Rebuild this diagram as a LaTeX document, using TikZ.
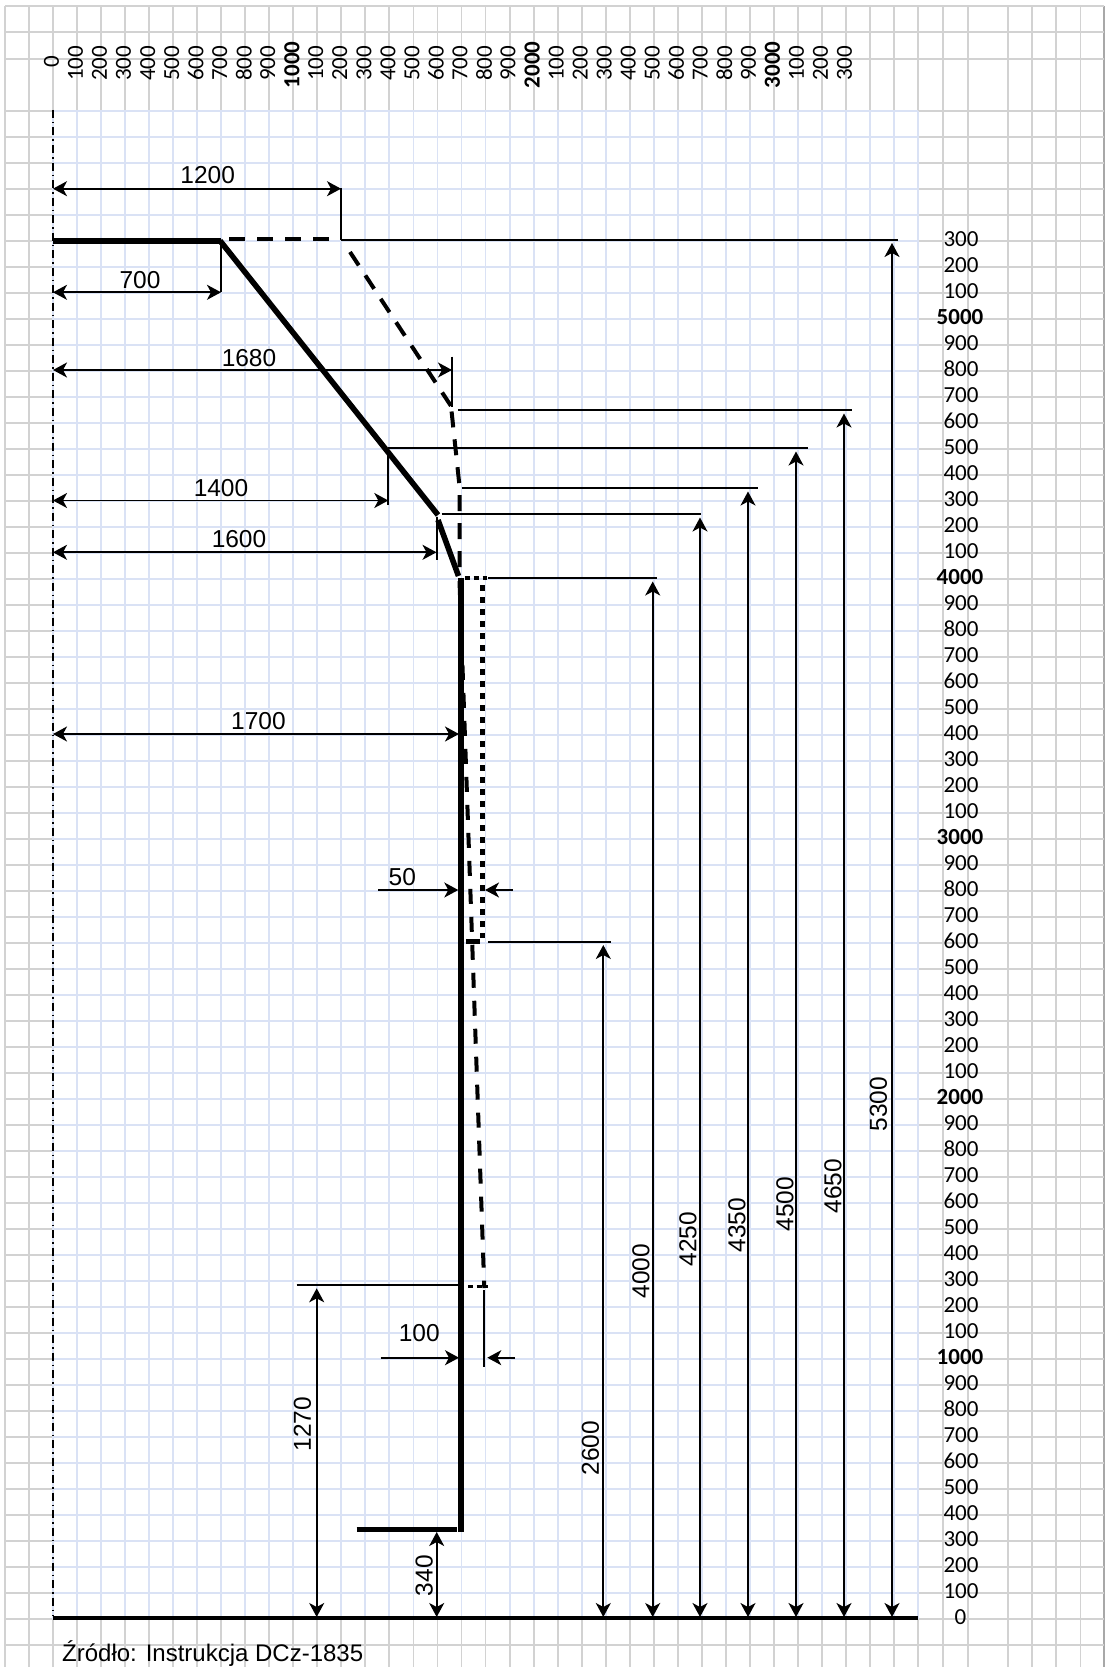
\documentclass[tikz,border=0pt]{standalone}
\usepackage{fontspec}
\newfontfamily\dimfont{Liberation Sans}
\newfontfamily\axfont{Carlito}
\usetikzlibrary{arrows.meta}
\definecolor{gridgrey}{HTML}{D2D2D2}
\definecolor{gridblue}{HTML}{DAE2F5}
\definecolor{edgegrey}{HTML}{A8A8A8}
\tikzset{
  greyline/.style={draw=gridgrey,line width=1.9pt},
  blueline/.style={draw=gridblue,line width=1.9pt},
  dimline/.style={draw=black,line width=1.7pt},
  dimboth/.style={dimline,{Stealth[length=14pt,width=15pt,inset=4pt]}-{Stealth[length=14pt,width=15pt,inset=4pt]}},
  dimend/.style={dimline,-{Stealth[length=14pt,width=15pt,inset=4pt]}},
  heavy/.style={draw=black,line width=5.6pt},
  dashedheavy/.style={draw=black,line width=4pt,dash pattern=on 16pt off 12pt},
  dotheavy/.style={draw=black,line width=5.3pt,dash pattern=on 5.7pt off 6.3pt},
  dimtext/.style={inner sep=0pt,font=\fontsize{24.5}{24.5}\selectfont\dimfont},
  sourcetext/.style={inner sep=0pt,font=\fontsize{24}{24}\selectfont\dimfont},
  axtext/.style={inner sep=0pt,font=\fontsize{23}{23}\selectfont\axfont},
  axbold/.style={inner sep=0pt,font=\fontsize{23}{23}\selectfont\axfont\bfseries},
}
\begin{document}
\begin{tikzpicture}[x=1pt,y=-1pt]
\useasboundingbox (0,0) rectangle (1106,1667);
\fill[white] (0,0) rectangle (1106,1667);
% margins of the grid
\foreach \k in {0,...,36}{
  \pgfmathsetmacro\gx{53+24.03*\k}
  \draw[greyline] (\gx,6) -- (\gx,110.7);
  \draw[greyline] (\gx,1618.7) -- (\gx,1667);
}
\foreach \gx in {5,29.2,942.7,968,1008,1032,1056.4,1080.5}{
  \draw[greyline] (\gx,6) -- (\gx,1667);
}
\draw[draw=edgegrey,line width=2pt] (1104,6) -- (1104,1667);
\foreach \gy in {6,32.3,59,1644.7}{
  \draw[greyline] (5,\gy) -- (1104,\gy);
}
\foreach \k in {0,...,58}{
  \pgfmathsetmacro\gy{1618.7-26*\k}
  \draw[greyline] (5,\gy) -- (53,\gy);
  \draw[greyline] (918,\gy) -- (1104,\gy);
}
% blue field
\foreach \k in {0,...,36}{
  \pgfmathsetmacro\gx{53+24.03*\k}
  \draw[blueline] (\gx,110.7) -- (\gx,1618.7);
}
\foreach \k in {1,...,58}{
  \pgfmathsetmacro\gy{1618.7-26*\k}
  \draw[blueline] (53,\gy) -- (918,\gy);
}
% top scale
\foreach \k in {0,...,33}{
  \pgfmathsetmacro\lx{53+24.03*\k-1.5}
  \pgfmathtruncatemacro\lm{mod(\k,10)*100}
  \pgfmathtruncatemacro\lt{\k*100}
  \ifnum\lm=0
    \ifnum\k=0
      \node[axtext,rotate=90] (xl\k) at (\lx,61.5) {0};
    \else
      \node[axbold,rotate=90] (xl\k) at (\lx,65) {\lt};
    \fi
  \else
    \node[axtext,rotate=90] (xl\k) at (\lx,63.5) {\lm};
  \fi
}
% right scale
\foreach \k in {0,...,53}{
  \pgfmathsetmacro\ly{1617-26*\k}
  \pgfmathtruncatemacro\lm{mod(\k,10)*100}
  \pgfmathtruncatemacro\lt{\k*100}
  \ifnum\lm=0
    \ifnum\k=0
      \node[axtext] (yl\k) at (960.5,\ly) {0};
    \else
      \node[axbold] (yl\k) at (960,\ly) {\lt};
    \fi
  \else
    \node[axtext] (yl\k) at (961,\ly) {\lm};
  \fi
}
% axis and ground
\draw[black,line width=1.6pt,dash pattern=on 8pt off 4pt on 1.5pt off 4pt] (53,110) -- (53,1616);
\draw[black,line width=4pt] (53,1617.7) -- (917.7,1617.7);
% extension lines
\draw[dimline] (341,188) -- (341,239.5);
\draw[dimline] (221,240) -- (221,292.3);
\draw[dimline] (452.3,356.7) -- (452.3,406.7);
\draw[dimline] (388.3,448) -- (388.3,505);
\draw[dimline] (436.7,516.7) -- (436.7,560);
\draw[dimline] (484.3,1290) -- (484.3,1367);
\draw[dimline] (341,240) -- (898,240);
\draw[dimline] (458,410.3) -- (852,410.3);
\draw[dimline] (388,448.3) -- (808,448.3);
\draw[dimline] (461.7,488.3) -- (758,488.3);
\draw[dimline] (441.7,514.3) -- (700.7,514.3);
\draw[dimline] (488.3,578.3) -- (657,578.3);
\draw[dimline] (488.3,941.7) -- (611,941.7);
\draw[dimline] (296.7,1285) -- (460,1285);
% horizontal dimensions
\draw[dimboth] (53,188.7) -- (341,188.7);
\draw[dimboth] (53,292.3) -- (221,292.3);
\draw[dimboth] (53,370) -- (452,370);
\draw[dimboth] (53,500.5) -- (388.3,500.5);
\draw[dimboth] (53,552.3) -- (436.5,552.3);
\draw[dimboth] (53,734) -- (459,734);
\draw[dimend] (378.3,890) -- (458.3,890);
\draw[dimend] (512.7,890) -- (485,890);
\draw[dimend] (380.7,1357.7) -- (459,1357.7);
\draw[dimend] (515,1357.7) -- (487.3,1357.7);
% vertical dimensions
\draw[dimboth] (316.7,1288.3) -- (316.7,1617);
\draw[dimboth] (436.7,1532) -- (436.7,1617);
\draw[dimboth] (603.3,945) -- (603.3,1617);
\draw[dimboth] (652.7,581.5) -- (652.7,1617);
\draw[dimboth] (700,517.5) -- (700,1617);
\draw[dimboth] (748,491.5) -- (748,1617);
\draw[dimboth] (796,451.5) -- (796,1617);
\draw[dimboth] (844,413.5) -- (844,1617);
\draw[dimboth] (892,243) -- (892,1617);
% alternative outline, dashed
\draw[dashedheavy,dash phase=20pt] (221,239.3) -- (341,239.3);
\draw[dashedheavy] (350,252) -- (451,406);
\draw[dashedheavy,dash phase=-5.5pt] (451,406) -- (459.7,488) -- (459.7,575);
\draw[dashedheavy,dash pattern=on 15pt off 13pt] (459.5,581) -- (484.3,1288);
% alternative outline, dotted
\draw[black,line width=3.5pt,dash pattern=on 5.5pt off 3.5pt] (464.7,578) -- (487,578);
\draw[dotheavy] (482.3,585) -- (482.3,938);
\draw[black,line width=5.3pt] (466,941.7) -- (480,941.7);
\draw[black,line width=3.5pt,dash pattern=on 5pt off 3.5pt] (468,1286.7) -- (488,1286.7);
% main outline
\draw[heavy] (53,240.7) -- (221,240.7);
\draw[heavy] (220,240.7) -- (438,515);
\draw[heavy] (438,520) -- (458.5,576);
\draw[black,line width=6pt] (460.7,578) -- (460.7,1531.7);
\draw[heavy] (356.7,1529.3) -- (456.7,1529.3);
% dimension texts
\node[dimtext] (t1200) at (207.7,175) {1200};
\node[dimtext] (t700) at (140,280) {700};
\node[dimtext] (t1680) at (249,358.4) {1680};
\node[dimtext] (t1400) at (221,488) {1400};
\node[dimtext] (t1600) at (239,539) {1600};
\node[dimtext] (t1700) at (258.4,721) {1700};
\node[dimtext] (t50) at (402.3,876.7) {50};
\node[dimtext] (t100) at (419.3,1332.7) {100};
\node[dimtext,rotate=90] (t1270) at (302.5,1424) {1270};
\node[dimtext,rotate=90] (t340) at (424.3,1575.7) {340};
\node[dimtext,rotate=90] (t2600) at (590.5,1448) {2600};
\node[dimtext,rotate=90] (t4000) at (641,1271) {4000};
\node[dimtext,rotate=90] (t4250) at (688,1239) {4250};
\node[dimtext,rotate=90] (t4350) at (737,1225) {4350};
\node[dimtext,rotate=90] (t4500) at (785,1204) {4500};
\node[dimtext,rotate=90] (t4650) at (833,1186) {4650};
\node[dimtext,rotate=90] (t5300) at (878.5,1104) {5300};
\node[sourcetext,anchor=base west] (source) at (62,1661.5) {Źródło: Instrukcja DCz-1835};
\end{tikzpicture}
\end{document}
